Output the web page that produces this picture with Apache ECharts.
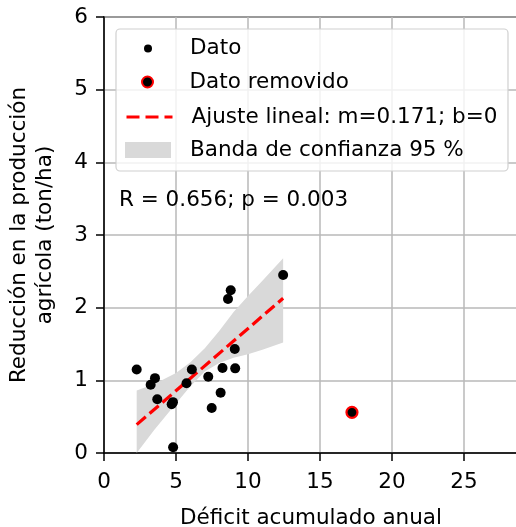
<!DOCTYPE html>
<html>
<head>
<meta charset="utf-8">
<script src="https://cdn.jsdelivr.net/npm/echarts@6/dist/echarts.min.js"></script>
<style>
  html, body { margin: 0; padding: 0; background: #fff; }
  #chart { width: 516px; height: 527px; }
</style>
</head>
<body>
<div id="chart"></div>
<script>
// points
const datoX = [2.27, 3.24, 3.54, 3.70, 4.70, 4.79, 4.80, 5.73, 6.10, 7.24, 7.48, 8.10, 8.23, 8.61, 8.80, 9.08, 9.11, 12.44];
const datoY = [1.15, 0.94, 1.03, 0.74, 0.67, 0.70, 0.08, 0.96, 1.15, 1.05, 0.62, 0.83, 1.17, 2.12, 2.24, 1.43, 1.165, 2.45];
const removidoX = [17.22];
const removidoY = [0.56];
const ajusteX = [2.27, 12.44];
const ajusteY = [0.39, 2.13];
const bandaX = [2.27, 3.5, 5, 6, 7, 8, 9, 10, 11, 12.44];
const bandaLow = [0.0, 0.32, 0.68, 0.92, 1.12, 1.24, 1.31, 1.36, 1.42, 1.52];
const bandaHigh = [0.86, 0.95, 1.1, 1.25, 1.44, 1.68, 1.94, 2.16, 2.37, 2.68];
const xTicks = [0, 5, 10, 15, 20, 25];
const yTicks = [0, 1, 2, 3, 4, 5, 6];

const FONT = 'DejaVu Sans';
const FS = 21.5;
const zip = (xs, ys) => xs.map((x, i) => [x, ys[i]]);

function legendRow(name, left, top, h, item) {
  return {
    left: left,
    top: top,
    padding: 0,
    z: 10,
    itemWidth: 46,
    itemHeight: h,
    selectedMode: false,
    textStyle: { fontSize: FS, fontFamily: FONT, color: '#000', padding: [0, 0, 0, 14] },
    data: [Object.assign({ name: name }, item || {})]
  };
}

// the band is drawn once as one polygon through the axis scales
function renderBand(params, api) {
  if (params.dataIndex !== 0) return null;
  const upper = bandaX.map((x, i) => api.coord([x, bandaHigh[i]]));
  const lower = bandaX.map((x, i) => api.coord([x, bandaLow[i]])).reverse();
  return {
    type: 'polygon',
    shape: { points: upper.concat(lower) },
    style: { fill: '#d9d9d9' }
  };
}

const chart = echarts.init(document.getElementById('chart'), null, { renderer: 'canvas' });
const option = {
  animation: false,
  textStyle: { fontFamily: FONT },
  grid: {
    left: 104, right: -2, top: 17, bottom: 74,
    outerBoundsMode: 'none', containLabel: false,
    show: true, borderColor: '#000', borderWidth: 1.5
  },
  title: {
    text: 'R = 0.656; p = 0.003',
    left: 119, top: 189, padding: 0,
    textStyle: { fontSize: FS, fontWeight: 'normal', fontFamily: FONT, color: '#000' }
  },
  graphic: [{
    type: 'rect', z: 8,
    shape: { x: 116, y: 29, width: 392, height: 142, r: 4 },
    style: { fill: 'rgba(255,255,255,0.8)', stroke: '#d0d0d0', lineWidth: 1.2 }
  }],
  legend: [
    legendRow('Dato', 144, 37.5, 8, { icon: 'circle' }),
    legendRow('Dato removido', 141, 71, 11, { icon: 'circle' }),
    legendRow('Ajuste lineal: m=0.171; b=0', 125, 106, 16, {
      itemStyle: { opacity: 0 },
      lineStyle: { width: 3, type: [13, 6] }
    }),
    legendRow('Banda de confianza 95 %', 125, 139, 16, { icon: 'rect', itemStyle: { color: '#d9d9d9' } })
  ],
  xAxis: {
    type: 'value', min: 0, max: 28.75, interval: 5,
    name: 'Déficit acumulado anual', nameLocation: 'middle', nameGap: 54,
    nameTextStyle: { fontSize: FS, color: '#000', fontFamily: FONT },
    axisLine: { lineStyle: { color: '#000', width: 1.5 } },
    axisTick: { length: 8, lineStyle: { color: '#000', width: 1.5 } },
    axisLabel: {
      fontSize: FS, color: '#000', margin: 18, showMaxLabel: false,
      formatter: v => (xTicks.includes(v) ? String(v) : '')
    },
    splitLine: { show: true, lineStyle: { color: '#b8b8b8', width: 1.5 } }
  },
  yAxis: {
    type: 'value', min: 0, max: 6, interval: 1,
    name: 'Reducción en la producción\nagrícola (ton/ha)', nameLocation: 'middle', nameGap: 46,
    nameTextStyle: { fontSize: FS, color: '#000', fontFamily: FONT, lineHeight: 26 },
    axisLine: { lineStyle: { color: '#000', width: 1.5 } },
    axisTick: { length: 8, lineStyle: { color: '#000', width: 1.5 } },
    axisLabel: {
      fontSize: FS, color: '#000', margin: 16,
      formatter: v => (yTicks.includes(v) ? String(v) : '')
    },
    splitLine: { show: true, lineStyle: { color: '#b8b8b8', width: 1.5 } }
  },
  series: [
    {
      name: 'Banda de confianza 95 %', type: 'custom', silent: true, z: 1,
      itemStyle: { color: '#d9d9d9' },
      renderItem: renderBand,
      data: bandaX.map((x, i) => [x, bandaLow[i], bandaHigh[i]])
    },
    {
      name: 'Ajuste lineal: m=0.171; b=0', type: 'line', symbol: 'none', z: 3,
      itemStyle: { color: '#ff0000' },
      lineStyle: { color: '#ff0000', width: 3.2, type: [12, 5] },
      data: zip(ajusteX, ajusteY)
    },
    {
      name: 'Dato', type: 'scatter', symbol: 'circle', symbolSize: 10, z: 4,
      itemStyle: { color: '#000', opacity: 1 },
      data: zip(datoX, datoY)
    },
    {
      name: 'Dato removido', type: 'scatter', symbol: 'circle', symbolSize: 11, z: 4,
      itemStyle: { color: '#000', borderColor: '#ff0000', borderWidth: 2.2, opacity: 1 },
      data: zip(removidoX, removidoY)
    }
  ]
};
chart.setOption(option);
</script>
</body>
</html>
